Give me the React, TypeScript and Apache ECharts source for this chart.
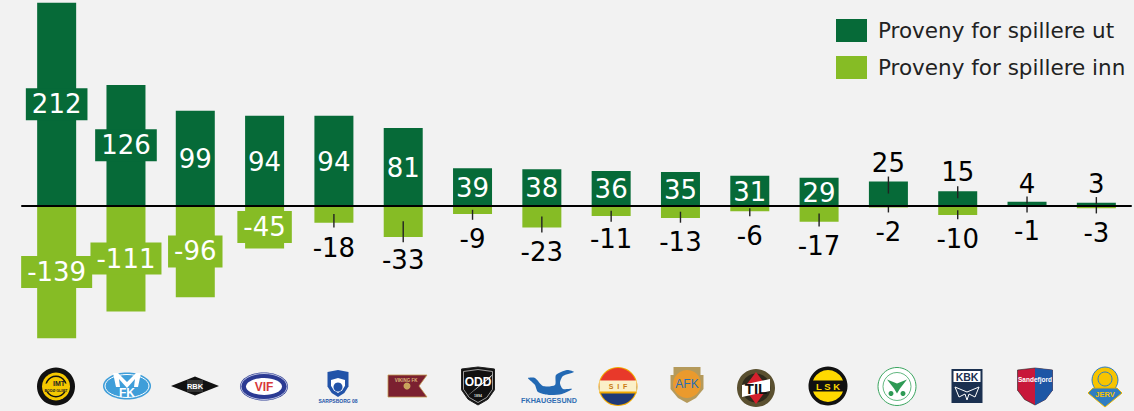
import React, { useEffect, useRef } from "react";
import * as echarts from "echarts";

const clubs = ["Bodø/Glimt", "Molde", "Rosenborg", "Vålerenga", "Sarpsborg 08", "Viking", "Odd", "Haugesund", "Strømsgodset", "Aalesund", "Tromsdalen", "Lillestrøm", "HamKam", "Kristiansund", "Sandefjord", "Jerv"];
const spillereUt = [212, 126, 99, 94, 94, 81, 39, 38, 36, 35, 31, 29, 25, 15, 4, 3];
const spillereInn = [-139, -111, -96, -45, -18, -33, -9, -23, -11, -13, -6, -17, -2, -10, -1, -3];

// Label and leader offsets (px) for the values that are written beside their bar
const utLabelShift: Record<number, number> = { 12: -32, 13: -27, 14: -21, 15: -21 };
const utLeader: Record<number, number> = { 12: -17, 13: -12, 14: -7, 15: -7 };
const innLabelShift: Record<number, number> = { 4: 32.5, 5: 38, 6: 28, 7: 34.5, 8: 27.5, 9: 29.5, 10: 27, 11: 31, 12: 25, 13: 28, 14: 24.5, 15: 25.5 };
const innLeader: Record<number, number> = { 4: 13.5, 5: 21, 6: 10, 7: 16, 8: 11, 9: 11, 10: 8, 11: 13, 12: 6, 13: 9, 14: 6.5, 15: 6.5 };

const DARK = "#066a38";
const LIGHT = "#86bc25";
const FONT = "DejaVu Sans";

function barData(values: number[], shift: Record<number, number>, color: string) {
  return values.map((v, i) => {
    const out = shift[i] !== undefined;
    const boxed = !out && String(v).length >= 3;
    return {
      value: v,
      label: {
        show: true,
        position: "inside" as const,
        offset: [0, out ? shift[i] + 1 : boxed ? 0 : 1],
        color: out ? "#000" : "#fff",
        fontSize: 26,
        fontFamily: FONT,
        lineHeight: 26,
        ...(boxed ? { backgroundColor: color, padding: [4, 6, 2, 6] } : {}),
      },
    };
  });
}

function leaderData(values: number[], len: Record<number, number>) {
  return values.flatMap((v, i) => (len[i] !== undefined ? [[i, v / 2, len[i]]] : []));
}

const T = (text: string, x: number, y: number, size: number, fill: string, weight = "bold") => ({
  type: "text",
  style: { text, x, y, fill, fontSize: size, fontWeight: weight, fontFamily: "Liberation Sans", align: "center", verticalAlign: "middle" },
});
const C = (r: number, fill: string, stroke?: string, lineWidth = 1, cx = 0, cy = 0) => ({
  type: "circle", shape: { cx, cy, r }, style: { fill, stroke: stroke ?? "none", lineWidth },
});
const E = (rx: number, ry: number, fill: string, stroke?: string, lineWidth = 1) => ({
  type: "ellipse", shape: { cx: 0, cy: 0, rx, ry }, style: { fill, stroke: stroke ?? "none", lineWidth },
});
const P = (points: number[][], fill: string, stroke?: string, lineWidth = 1, smooth = 0) => ({
  type: "polygon", shape: { points, smooth }, style: { fill, stroke: stroke ?? "none", lineWidth },
});
const R = (x: number, y: number, width: number, height: number, fill: string) => ({
  type: "rect", shape: { x, y, width, height }, style: { fill },
});
const S = (r: number, a0: number, a1: number, fill: string) => ({
  type: "sector", shape: { cx: 0, cy: 0, r, startAngle: a0, endAngle: a1 }, style: { fill },
});
const shield = (w: number, top: number, bottom: number) => [[-w, top + 2], [0, top], [w, top + 2], [w, bottom * 0.2], [w * 0.6, bottom * 0.7], [0, bottom], [-w * 0.6, bottom * 0.7], [-w, bottom * 0.2]];

const logoCentres = [[56, 386.5], [127, 386], [195, 386], [264, 386.5], [338, 384], [407, 386], [478, 386], [549, 386], [618, 386.5], [687, 385], [756, 388], [828, 386], [897, 386.5], [967, 386], [1035, 386.5], [1105, 387]];

const logoParts: any[][] = [
  [C(19, "#111"), C(14, "#f5c800"), C(11, "#111"), C(9.5, "#f5c800"), R(-13, -3, 26, 8, "#f5c800"), T("IMT", 3, -3, 7, "#222"), T("BODØ GLIMT", 0, 4, 3.6, "#222")],
  [E(24, 13.5, "#3f9ed9"), E(22, 11.5, "#3f9ed9", "#fff", 1), P([[-14, -13], [-9, -13], [0, -4], [9, -13], [14, -13], [11, 1], [7, 1], [8, -7], [0, 2], [-8, -7], [-7, 1], [-11, 1]], "#fff"), T("FK", 0, 7, 12, "#fff")],
  [P([[-24, 0], [0, -9.5], [24, 0], [0, 9.5]], "#111"), R(-8, -6, 16, 12, "#333"), T("RBK", 0, 0.5, 7.5, "#fff")],
  [E(24, 14, "#2b3a93"), E(23, 13, "#2b3a93", "#dfe3f4", 0.8), E(18, 8.5, "#fff"), T("VIF", 0, 0.5, 12, "#d8383a")],
  [P(shield(10.5, -14, 13), "#2253a8"), P(shield(7, -6, 9), "#fff"), C(4.5, "#2253a8", undefined, 1, 0, 3), T("SARPSBORG 08", 0, 16.8, 5, "#2253a8")],
  [P([[-19, -11], [20, -11], [12, 0], [20, 11], [-19, 11]], "#7b2030", "#c19a50", 0.8), C(3.5, "#c9a45c"), T("VIKING FK", -1, -6, 4.5, "#d9b878")],
  [P(shield(16.5, -19, 19), "#111", "#222", 1), P(shield(14.5, -16.5, 16.5), "#111", "#ddd", 0.7), P([[-12, 11], [15, -12], [12, -8]], "#fff"), T("ODD", 0, -4, 12, "#fff"), T("1894", 0, 10, 3.5, "#ddd")],
  [P([[-21, -8], [-14, -8], [-6, 0], [6, -1], [7, -11], [18, -16], [25, -14], [14, -10], [11, -3], [14, 3], [23, 3], [13, 8], [0, 9], [-11, 6], [-14, -1], [-17, -4]], "#2369b3", undefined, 1, 0.25), T("FKHAUGESUND", 0, 14.5, 7.2, "#2f6db3")],
  [C(19.5, "#f2a900"), S(18.5, Math.PI, Math.PI * 2, "#e8392a"), S(18.5, 0, Math.PI, "#1f3a78"), R(-18.5, -6, 37, 12, "#fbf0c8"), R(-18.5, 5, 37, 2, "#f2a900"), T("S  I  F", 0, 0, 7, "#c97a10")],
  [R(-13.5, -18, 27, 8, "#b59a5b"), P([[-16.5, -10], [16.5, -10], [16.5, 4], [9, 13], [0, 18], [-9, 13], [-16.5, 4]], "#b59a5b"), C(14, "#ea9a2d", undefined, 1, 0, -1), T("AFK", 0, -1, 12, "#2a6fb0", "normal")],
  [C(19, "#5a5030"), C(14.5, "#2f2a1c"), P([[0, -16], [12, 0], [0, 16], [-12, 0]], "#d5202c"), P([[-14, -3], [14, -9], [14, 3], [-14, 9]], "#fff"), T("TIL", 0, 0, 15, "#111")],
  [C(19.5, "#111"), C(16, "#ffd900"), R(-17, -5.5, 34, 11, "#111"), T("L S K", 0, 0.5, 9.5, "#ffd900")],
  [C(19, "#fff", "#3aa55f", 1), C(14, "#fff", "#3aa55f", 0.8), P([[-10, -7], [0, -3], [10, -7], [3, 2], [0, 7], [-3, 2]], "#2e9a55"), C(2.5, "#2e9a55", undefined, 1, -6, 7), C(2.5, "#2e9a55", undefined, 1, 6, 7)],
  [R(-15.5, -17, 31, 34, "#1b3050"), R(-13.5, -15, 27, 11, "#fff"), T("KBK", 0, -9.3, 10.5, "#1b3050"), P([[-12, 1], [0, 6], [12, 1], [8, 11], [2, 8], [0, 14], [-2, 8], [-8, 11]], "#1b3050", "#fff", 1)],
  [P(shield(17.5, -18.5, 18.5), "#c8173a", "#222", 0.6), P([[0, -18.5], [17.5, -16.5], [17.5, 3.7], [10.5, 13], [0, 18.5]], "#1d56a5"), T("Sandefjord", 0, -7, 6.5, "#fff")],
  [C(13, "#f7c400", "#2f7dc2", 1, 0, -7), C(7, "none", "#2f7dc2", 1, 0, -8), P([[0, 20], [-17, 6], [-12, 1], [12, 1], [17, 6]], "#2f7dc2", "#e7b400", 1), T("JERV", 0, 7, 7.5, "#f7c400")],
];

export default function App() {
  const ref = useRef<HTMLDivElement>(null);
  useEffect(() => {
    document.body.style.margin = "0";
    const chart = echarts.init(ref.current!, undefined, { renderer: "svg" });
    chart.setOption({
      animation: false,
      backgroundColor: "#f2f2f2",
      grid: { left: 22, width: 1109, top: 0, height: 411.7 },
      xAxis: {
        type: "category",
        data: clubs,
        z: 5,
        axisLine: { onZero: true, lineStyle: { color: "#000", width: 2 } },
        axisTick: { show: false },
        axisLabel: { show: false },
      },
      yAxis: { type: "value", min: -215, max: 215, show: false },
      legend: {
        orient: "vertical",
        left: 831,
        top: 14,
        icon: "rect",
        itemWidth: 31,
        itemHeight: 23,
        itemGap: 14,
        data: ["Proveny for spillere ut", "Proveny for spillere inn"],
        textStyle: { fontFamily: FONT, fontSize: 21.5, color: "#222", padding: [0, 0, 0, 6] },
      },
      series: [
        { name: "Proveny for spillere ut", type: "bar", stack: "proveny", barWidth: 39, itemStyle: { color: DARK }, data: barData(spillereUt, utLabelShift, DARK) },
        { name: "Proveny for spillere inn", type: "bar", stack: "proveny", barWidth: 39, itemStyle: { color: LIGHT }, data: barData(spillereInn, innLabelShift, LIGHT) },
        ...[leaderData(spillereUt, utLeader), leaderData(spillereInn, innLeader)].map((d) => ({
          type: "custom",
          silent: true,
          z: 4,
          data: d,
          renderItem: (_: any, api: any) => {
            const p = api.coord([api.value(0), api.value(1)]);
            return { type: "line", shape: { x1: p[0], y1: p[1], x2: p[0], y2: p[1] + api.value(2) }, style: { stroke: "#222", lineWidth: 1.4 } };
          },
        })),
      ],
      graphic: logoParts.map((children, i) => ({
        type: "group",
        x: logoCentres[i][0],
        y: logoCentres[i][1],
        silent: true,
        children,
      })),
    });
    return () => chart.dispose();
  }, []);
  return <div ref={ref} style={{ position: "absolute", left: 0, top: 0, width: 1134, height: 411 }} />;
}
